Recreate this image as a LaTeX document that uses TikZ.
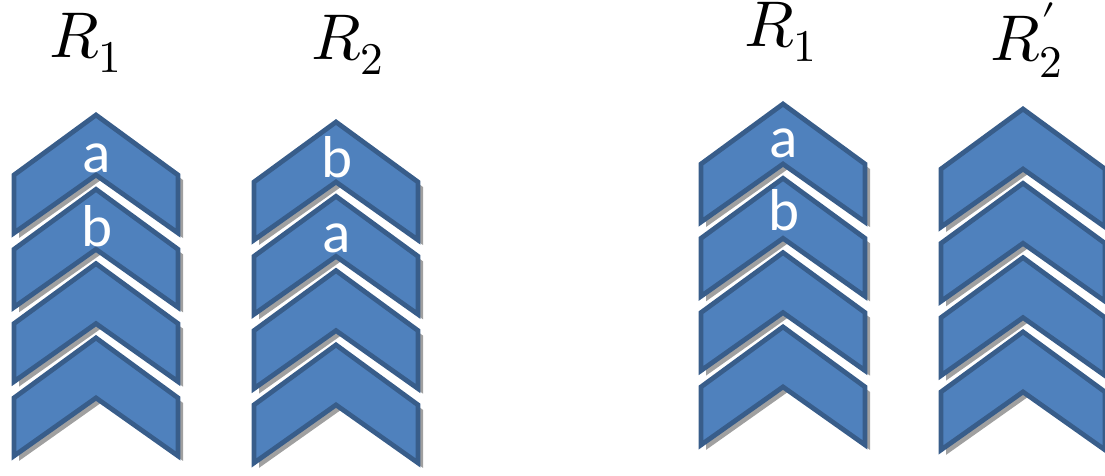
\documentclass[tikz,border=0pt]{standalone}
\usepackage{fontspec}
\usepackage{unicode-math}
\setmathfont{Latin Modern Math}
\newfontfamily\labelfont{Carlito}
\usepackage{xcolor}
\usepackage{tikz}
\usetikzlibrary{positioning}

\definecolor{chevfill}{HTML}{4F81BD}
\definecolor{chevline}{HTML}{385D8A}
\definecolor{chevshadow}{HTML}{A0A0A0}

\begin{document}
\begin{tikzpicture}[
  x=0.025cm, y=-0.025cm,
  chev/.style={fill=chevfill, draw=chevline, line width=3.4pt, line join=miter},
  shade/.style={fill=chevshadow},
  letter/.style={text=white, inner sep=0pt, anchor=base, font=\labelfont\fontsize{42}{44}\selectfont},
  title/.style={inner sep=0pt, anchor=base, font=\fontsize{46}{50}\selectfont}
]
  \useasboundingbox (0,0) rectangle (1105,475);
  % columns: centre x / top of first chevron
  \foreach \cx/\ty in {96/115, 336/122, 783/104, 1023/109} {
    \foreach \k in {0,...,3} {
      \pgfmathsetmacro{\t}{\ty+74.3*\k}
      \fill[shade, shift={(5,5)}] (\cx,\t) -- ++(82,60) -- ++(0,58) -- (\cx,\t+60) -- ++(-82,58) -- ++(0,-58) -- cycle;
      \draw[chev] (\cx,\t) -- ++(82,60) -- ++(0,58) -- (\cx,\t+60) -- ++(-82,58) -- ++(0,-58) -- cycle;
    }
  }
  % register names
  \node[title] (r1) at (86,57) {$R_1$};
  \node[title] (r2) at (348,59) {$R_2$};
  \node[title] (r1b) at (781,46) {$R_1$};
  \node[title] (r2p) at (1027,60) {$R'_2$};
  % entries
  \node[letter] (a1) at (97,172) {a};
  \node[letter] (b1) at (97,246) {b};
  \node[letter] (b2) at (337,177) {b};
  \node[letter] (a2) at (337,252) {a};
  \node[letter] (a3) at (784,157) {a};
  \node[letter] (b3) at (784,230) {b};
\end{tikzpicture}
\end{document}
